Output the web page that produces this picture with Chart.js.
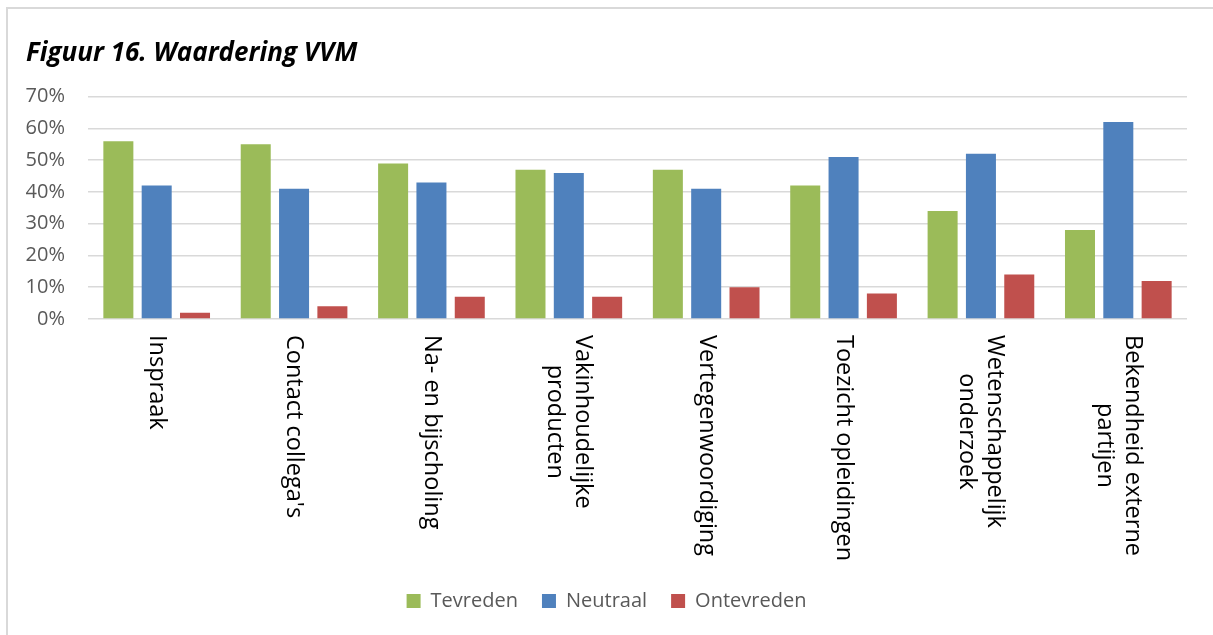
<!DOCTYPE html>
<html lang="nl">
<head>
  <meta charset="UTF-8">
  <title>Figuur 16. Waardering VVM</title>
  <script src="https://cdn.jsdelivr.net/npm/chart.js"></script>
  <style>
    html, body { margin: 0; padding: 0; background: #fff; overflow: hidden; }
    .frame { position: absolute; left: 6px; top: 7px; width: 1300px; height: 700px;
             border-top: 2px solid #d9d9d9; border-left: 2px solid #d9d9d9; }
    .wrap { position: absolute; left: 0; top: 0; width: 1213px; height: 635px; }
  </style>
</head>
<body>
  <div class="frame"></div>
  <div class="wrap"><canvas id="chart"></canvas></div>

  <script>
    // categories (line breaks as in the original)
    const categories = [
      ['Inspraak'],
      ["Contact collega's"],
      ['Na- en bijscholing'],
      ['Vakinhoudelijke', 'producten'],
      ['Vertegenwoordiging'],
      ['Toezicht opleidingen'],
      ['Wetenschappelijk', 'onderzoek'],
      ['Bekendheid externe', 'partijen']
    ];
    // percentages
    const tevreden   = [56, 55, 49, 47, 47, 42, 34, 28];
    const neutraal   = [42, 41, 43, 46, 41, 51, 52, 62];
    const ontevreden = [2, 4, 7, 7, 10, 8, 14, 12];
    const yTicks = [0, 10, 20, 30, 40, 50, 60, 70];

    const FONT = '"Open Sans", sans-serif';

    // x labels are drawn turned clockwise (top to bottom), like Excel does
    const verticalLabels = {
      id: 'verticalLabels',
      afterDraw(chart) {
        const ctx = chart.ctx;
        const x = chart.scales.x;
        ctx.save();
        ctx.font = '23.5px ' + FONT;
        ctx.fillStyle = '#000';
        ctx.textBaseline = 'middle';
        ctx.textAlign = 'center';
        categories.forEach((lines, i) => {
          const px = x.getPixelForTick(i);
          const w = Math.max(...lines.map(l => ctx.measureText(l).width));
          ctx.save();
          ctx.translate(px, x.top + 16);
          ctx.rotate(Math.PI / 2);
          lines.forEach((l, j) => {
            ctx.fillText(l, w / 2, (j - (lines.length - 1) / 2) * 28);
          });
          ctx.restore();
        });
        ctx.restore();
      }
    };

    const ctx = document.getElementById('chart').getContext('2d');
    new Chart(ctx, {
      type: 'bar',
      data: {
        labels: categories.map(c => c.join(' ')),
        datasets: [
          { label: 'Tevreden', data: tevreden, backgroundColor: '#9BBB59' },
          { label: 'Neutraal', data: neutraal, backgroundColor: '#4F81BD' },
          { label: 'Ontevreden', data: ontevreden, backgroundColor: '#C0504D' }
        ]
      },
      options: {
        responsive: true,
        maintainAspectRatio: false,
        animation: false,
        datasets: { bar: { categoryPercentage: 0.837, barPercentage: 0.783 } },
        layout: { padding: { top: 38, left: 26, right: 26, bottom: 14 } },
        plugins: {
          title: {
            display: true,
            text: 'Figuur 16. Waardering VVM',
            align: 'start',
            color: '#000',
            font: { family: FONT, size: 26, weight: 'bold', style: 'italic' },
            padding: { top: 0, bottom: 27.5 }
          },
          legend: {
            position: 'bottom',
            labels: {
              boxWidth: 14,
              boxHeight: 14,
              padding: 24,
              color: '#595959',
              font: { family: FONT, size: 20 }
            }
          },
          tooltip: { enabled: false }
        },
        scales: {
          x: {
            grid: { display: false },
            border: { display: false },
            ticks: { display: false },
            afterFit: s => { s.height = 248; }
          },
          y: {
            min: 0,
            max: 70,
            afterBuildTicks: s => { s.ticks = yTicks.map(v => ({ value: v })); },
            afterFit: s => { s.width = 62; },
            grid: { color: '#d9d9d9', lineWidth: 1.5, drawTicks: false },
            border: { display: false },
            ticks: {
              padding: 23,
              color: '#595959',
              font: { family: FONT, size: 20 },
              callback: v => v + '%'
            }
          }
        }
      },
      plugins: [verticalLabels]
    });
  </script>
</body>
</html>
